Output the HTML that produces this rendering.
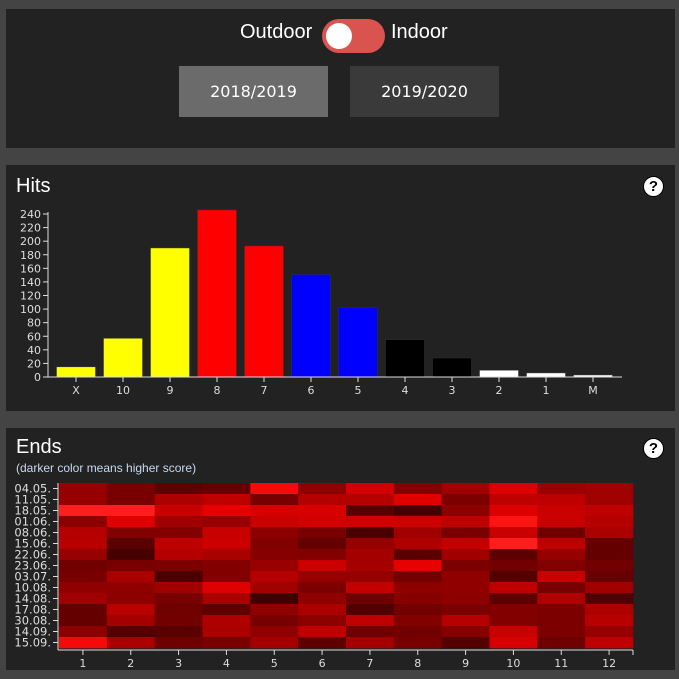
<!DOCTYPE html>
<html><head><meta charset="utf-8"><style>
body{margin:0;width:679px;height:679px;background:#444;font-family:"Liberation Sans","DejaVu Sans",sans-serif;position:relative;overflow:hidden}
.panel{position:absolute;left:6px;width:669px;background:#222}
.btn{position:absolute;top:57px;width:149px;height:51px;color:#fff;font-size:16px;display:flex;align-items:center;justify-content:center;font-family:"DejaVu Sans",sans-serif}
.help{position:absolute;width:19px;height:19px;border-radius:50%;background:#fff;color:#000;font-weight:bold;font-size:15px;text-align:center;line-height:19px;border:1px solid #000}
</style></head><body>
<div class="panel" style="top:9px;height:139px">
  <span style="position:absolute;left:234px;top:12px;color:#fff;font-size:20px">Outdoor</span>
  <div style="position:absolute;left:316px;top:10px;width:63px;height:34px;border-radius:17px;background:#d9534f">
    <div style="position:absolute;left:4px;top:4px;width:26px;height:26px;border-radius:50%;background:#fff"></div></div>
  <span style="position:absolute;left:385px;top:12px;color:#fff;font-size:20px">Indoor</span>
  <div class="btn" style="left:173px;background:#6b6b6b">2018/2019</div>
  <div class="btn" style="left:344px;background:#3a3a3a">2019/2020</div>
</div>
<div class="panel" style="top:165px;height:246px">
  <span style="position:absolute;left:10px;top:10px;color:#fff;font-size:20px">Hits</span>
  <div class="help" style="left:637px;top:11px">?</div>
</div>
<div class="panel" style="top:428px;height:242px">
  <span style="position:absolute;left:10px;top:8px;color:#fff;font-size:20px">Ends</span>
  <span style="position:absolute;left:10px;top:33px;color:#c8d8f0;font-size:12px">(darker color means higher score)</span>
  <div class="help" style="left:637px;top:10px">?</div>
</div>
<svg id="chart" width="679" height="679" style="position:absolute;left:0;top:0" font-family="DejaVu Sans, sans-serif"></svg>
<script>
const hitCats=["X","10","9","8","7","6","5","4","3","2","1","M"];
const hitVals=[15,57,190,246,193,151,102,55,28,10,6,3];
const hitColors=["#ff0","#ff0","#ff0","#f00","#f00","#00f","#00f","#000","#000","#fff","#fff","#fff"];
const hitTicks=[0,20,40,60,80,100,120,140,160,180,200,220,240];
const endDates=["04.05.","11.05.","18.05.","01.06.","08.06.","15.06.","22.06.","23.06.","03.07.","10.08.","14.08.","17.08.","30.08.","14.09.","15.09."];
const endCols=[1,2,3,4,5,6,7,8,9,10,11,12];
const endHeat=[
[150,120,95,100,245,140,210,130,160,220,155,160],
[150,120,175,190,120,180,180,225,125,190,190,160],
[255,255,200,230,215,215,90,70,140,220,200,190],
[140,225,160,150,200,210,210,205,190,250,200,180],
[180,130,130,200,140,120,75,160,120,200,110,170],
[185,90,190,205,130,100,150,175,195,255,190,100],
[150,70,180,170,135,130,165,90,160,95,150,100],
[115,120,125,130,155,205,165,230,125,115,130,115],
[120,170,75,130,180,150,150,115,145,85,200,105],
[145,145,160,220,160,125,195,140,145,190,120,160],
[160,140,120,170,65,145,110,135,140,95,175,80],
[100,185,110,95,145,170,80,115,125,130,125,175],
[100,165,115,175,120,140,190,130,180,130,125,185],
[140,85,90,170,145,190,110,115,135,200,125,150],
[245,170,110,120,165,95,165,120,85,215,110,190]];
const svg=document.getElementById('chart');const NS='http://www.w3.org/2000/svg';
function el(t,a,p){const e=document.createElementNS(NS,t);for(const k in a)e.setAttribute(k,a[k]);(p||svg).appendChild(e);return e;}
const y0=377,yScale=v=>y0-v*163/240,xStart=52.5,step=47;
const bx=i=>xStart+i*step;
hitVals.forEach((v,i)=>{const r=el('rect',{x:bx(i)+4,y:yScale(v),width:39,height:y0-yScale(v),fill:hitColors[i],stroke:'#333','stroke-width':0.5});

});
el('line',{x1:48,y1:212,x2:48,y2:y0,stroke:'#ddd'});
el('line',{x1:48,y1:y0,x2:622,y2:y0,stroke:'#ddd'});
hitTicks.forEach(t=>{const y=yScale(t);el('line',{x1:43,y1:y,x2:48,y2:y,stroke:'#ddd'});
const tx=el('text',{x:41,y:y+4,'text-anchor':'end',fill:'#ddd','font-size':11});tx.textContent=t;

});
hitCats.forEach((c,i)=>{const x=bx(i)+23.5;el('line',{x1:x,y1:y0,x2:x,y2:y0+5,stroke:'#ddd'});
const tx=el('text',{x:x,y:y0+17,'text-anchor':'middle',fill:'#ddd','font-size':11});tx.textContent=c;

});
const hx0=59,hx1=633,hy0=483,rowH=11,colW=(hx1-hx0)/endCols.length;
endHeat.forEach((row,ri)=>row.forEach((h,ci)=>{const r=el('rect',{x:hx0+ci*colW,y:hy0+ri*rowH,width:colW+0.3,height:rowH+0.3,fill:`rgb(${h},${Math.max(0,h-240)*2},${Math.max(0,h-240)*2})`});

}));
const hyEnd=hy0+endDates.length*rowH;
el('line',{x1:hx0-1,y1:hy0,x2:hx0-1,y2:hyEnd+2,stroke:'#ddd'});
el('line',{x1:hx0-1,y1:hyEnd+2,x2:hx1,y2:hyEnd+2,stroke:'#ddd'});
el('line',{x1:hx1,y1:hyEnd+2,x2:hx1,y2:hyEnd+7,stroke:'#ddd'});
endDates.forEach((d,i)=>{const y=hy0+i*rowH+rowH/2;el('line',{x1:hx0-6,y1:y,x2:hx0-1,y2:y,stroke:'#ddd'});
const tx=el('text',{x:hx0-8,y:y+4,'text-anchor':'end',fill:'#ddd','font-size':11.5});tx.textContent=d;

});
endCols.forEach((c,i)=>{const x=hx0+(i+0.5)*colW;el('line',{x1:x,y1:hyEnd+2,x2:x,y2:hyEnd+7,stroke:'#ddd'});
const tx=el('text',{x:x,y:hyEnd+19,'text-anchor':'middle',fill:'#ddd','font-size':11});tx.textContent=c;

});
</script>
</body></html>
